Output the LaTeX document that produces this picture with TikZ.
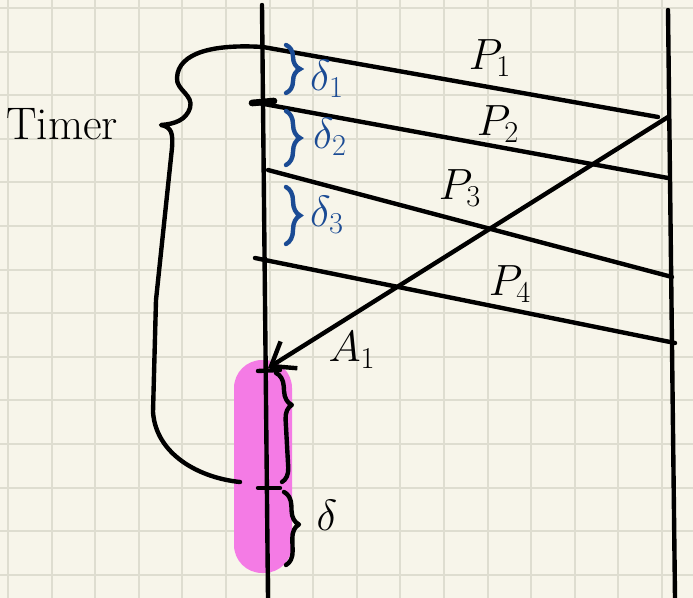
\documentclass[tikz,border=0pt]{standalone}
\usepackage{amsmath}
\usetikzlibrary{arrows.meta,decorations.pathreplacing}

\definecolor{paper}{HTML}{F7F5EA}
\definecolor{gridc}{HTML}{DEDDD0}
\definecolor{inkblue}{HTML}{1B4B94}
\definecolor{marker}{HTML}{F47BE5}

\begin{document}
\begin{tikzpicture}[x=0.02cm,y=-0.02cm,
  pen/.style={line width=2.5pt,line cap=round,line join=round},
  gridline/.style={gridc,line width=1.2pt},
  bluebrace/.style={inkblue,line width=2.5pt,line cap=round,decorate,decoration={brace,amplitude=8pt}},
  blackbrace/.style={pen,decorate,decoration={brace,amplitude=8pt,aspect=#1}},
  lbl/.style={font=\fontsize{26}{28}\selectfont},
  dlbl/.style={inkblue,font=\fontsize{23}{25}\selectfont}]
% paper and grid
\fill[paper] (0,0) rectangle (693,598);
\useasboundingbox (0,0) rectangle (693,598);
\foreach \k in {0,...,15}
  \draw[gridline] ({8+43.6*\k},0) -- ({8+43.6*\k},598);
\foreach \k in {0,...,13}
  \draw[gridline] (0,{8+43.6*\k}) -- (693,{8+43.6*\k});
% highlighted interval
\fill[marker,rounded corners=0.56cm] (234,360) rectangle (292,573);
% process lines
\coordinate (senderTop) at (262,5);
\coordinate (senderBot) at (268,598);
\coordinate (recvTop) at (668,10);
\coordinate (recvBot) at (675,598);
\draw[pen] (senderTop) -- (senderBot);
\draw[pen] (recvTop) -- (recvBot);
% packets
\coordinate (p1s) at (263,47);  \coordinate (p1e) at (658,117);
\coordinate (p2s) at (253,102); \coordinate (p2e) at (668,178);
\coordinate (p3s) at (268,170); \coordinate (p3e) at (672,277);
\coordinate (p4s) at (255,258); \coordinate (p4e) at (675,343);
\draw[pen] (p1s) -- (p1e);
\draw[pen] (p2s) -- (p2e);
\draw[pen] (p3s) -- (p3e);
\draw[pen] (p4s) -- (p4e);
\node[lbl] (P1) at (490,58) {$P_1$};
\node[lbl] (P2) at (498,124) {$P_2$};
\node[lbl] (P3) at (460,188) {$P_3$};
\node[lbl] (P4) at (510,284) {$P_4$};
% ack
\coordinate (ackS) at (668,117);
\coordinate (ackE) at (268,368);
\draw[pen,-{Straight Barb[length=12pt,width=18pt]}] (ackS) -- (ackE);
\node[lbl] (A1) at (352,350) {$A_1$};
% ticks on the sender line
\draw[pen,line width=3.8pt] (252,103) -- (274,101);
\draw[pen] (258,371) -- (280,370);
\draw[pen] (258,488) -- (280,488);
% gaps between sends
\draw[bluebrace] (286,45) -- (286,93);
\draw[bluebrace] (286,111) -- (286,165);
\draw[bluebrace] (286,187) -- (286,244);
\node[dlbl] (d1) at (327,79) {$\delta_1$};
\node[dlbl] (d2) at (330,137) {$\delta_2$};
\node[dlbl] (d3) at (327,215) {$\delta_3$};
% timer and delta after the ack
\draw[blackbrace=0.3] (276,373) -- (282,482);
\draw[blackbrace=0.45] (284,492) -- (286,565);
\node[lbl] (d) at (327,515) {$\delta$};
% timer brace
\node[lbl,anchor=west] (timer) at (0,124) {Timer};
\coordinate (tTop) at (263,47);
\coordinate (tBot) at (240,482);
\draw[pen] (tTop) .. controls (215,44) and (178,52) .. (177,78)
  .. controls (176,90) and (194,95) .. (190,108)
  .. controls (186,120) and (175,124) .. (161,125)
  .. controls (172,127) and (173,134) .. (172,148)
  -- (156,300) -- (153,412)
  .. controls (156,455) and (200,478) .. (tBot);
\end{tikzpicture}
\end{document}
